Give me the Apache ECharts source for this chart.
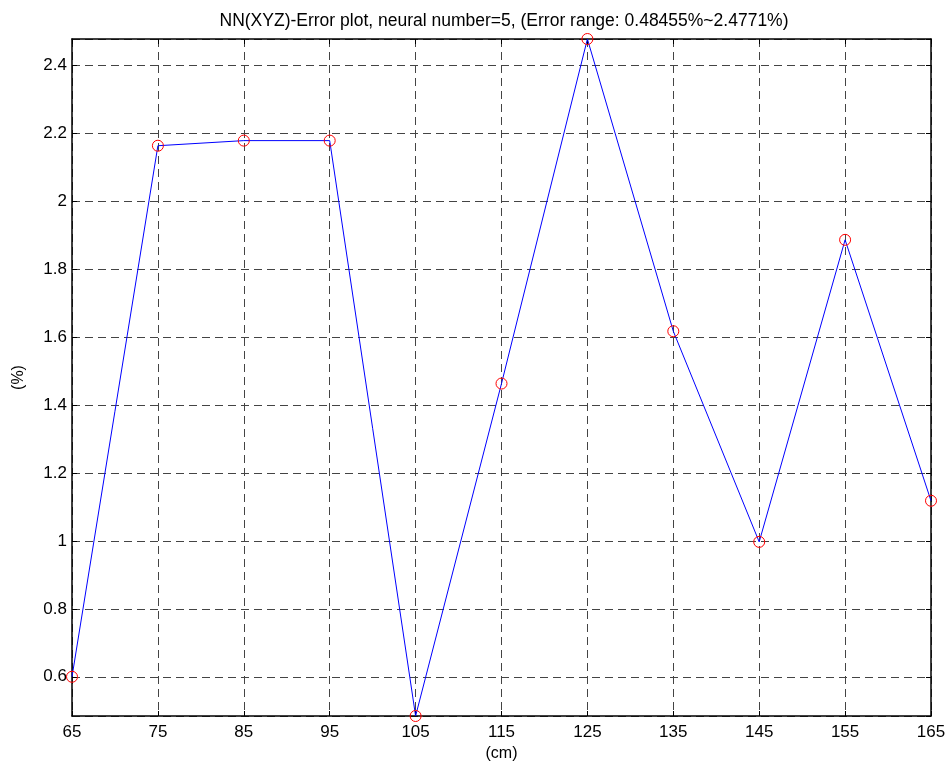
<!DOCTYPE html>
<html>
<head>
<meta charset="utf-8">
<script src="https://cdn.jsdelivr.net/npm/echarts@6/dist/echarts.min.js"></script>
<style>html,body{margin:0;padding:0;background:#fff}#c{width:949px;height:772px}</style>
</head>
<body>
<div id="c"></div>
<script>
const titleText = 'NN(XYZ)-Error plot, neural number=5, (Error range: 0.48455%~2.4771%)';
const xValues = [65, 75, 85, 95, 105, 115, 125, 135, 145, 155, 165];
const errValues = [0.6, 2.163, 2.178, 2.178, 0.48455, 1.463, 2.4771, 1.617, 0.997, 1.886, 1.118];
const xName = '(cm)';
const yName = '(%)';
const xMin = 65, xMax = 165, xStep = 10;
const yMin = 0.48455, yMax = 2.4771, yStep = 0.2;

const font = 'Liberation Sans, Arial, Helvetica, sans-serif';
const gridLine = {show: true, lineStyle: {color: '#444', type: [8, 5], width: 1}};
const chart = echarts.init(document.getElementById('c'), null, {renderer: 'canvas'});
chart.setOption({
  backgroundColor: '#fff',
  animation: false,
  title: {
    text: titleText, left: 499, top: 7, textAlign: 'center',
    textStyle: {fontFamily: font, fontSize: 17.5, fontWeight: 'normal', color: '#000'}
  },
  grid: {left: 72, right: 18, top: 39, bottom: 56, containLabel: false},
  xAxis: [{
    type: 'value', min: xMin, max: xMax, interval: xStep,
    name: xName, nameLocation: 'middle', nameGap: 26,
    nameTextStyle: {fontFamily: font, fontSize: 16, color: '#000'},
    axisLine: {show: true, onZero: false, lineStyle: {color: '#000', width: 1.5}},
    axisTick: {show: true, inside: true, length: 5, lineStyle: {color: '#000'}},
    axisLabel: {fontFamily: font, fontSize: 17, color: '#000', margin: 8},
    splitLine: gridLine
  }, {
    type: 'value', position: 'top', min: xMin, max: xMax, interval: xStep,
    axisLine: {show: true, onZero: false, lineStyle: {color: '#000', width: 1.5}},
    axisTick: {show: true, inside: true, length: 5, lineStyle: {color: '#000'}},
    axisLabel: {show: false}, splitLine: {show: false}
  }],
  yAxis: [{
    type: 'value', min: yMin, max: yMax, splitNumber: 10, minInterval: yStep, maxInterval: yStep,
    name: yName, nameLocation: 'middle', nameGap: 45, nameRotate: 90,
    nameTextStyle: {fontFamily: font, fontSize: 16, color: '#000'},
    axisLine: {show: true, onZero: false, lineStyle: {color: '#000', width: 1.5}},
    axisTick: {show: true, inside: true, length: 5, lineStyle: {color: '#000'}},
    axisLabel: {fontFamily: font, fontSize: 17, color: '#000', margin: 5, showMinLabel: false, showMaxLabel: false,
      formatter: v => String(Math.round(v * 100) / 100)},
    splitLine: gridLine
  }, {
    type: 'value', position: 'right', min: yMin, max: yMax, splitNumber: 10, minInterval: yStep, maxInterval: yStep,
    axisLine: {show: true, onZero: false, lineStyle: {color: '#000', width: 1.5}},
    axisTick: {show: true, inside: true, length: 5, lineStyle: {color: '#000'}},
    axisLabel: {show: false}, splitLine: {show: false}
  }],
  series: [{
    type: 'line',
    data: xValues.map((x, i) => [x, errValues[i]]),
    lineStyle: {color: '#0000ff', width: 1},
    symbol: 'circle', symbolSize: 11,
    itemStyle: {color: 'rgba(0,0,0,0)', borderColor: '#ff0000', borderWidth: 1},
    clip: false
  }]
});
</script>
</body>
</html>
